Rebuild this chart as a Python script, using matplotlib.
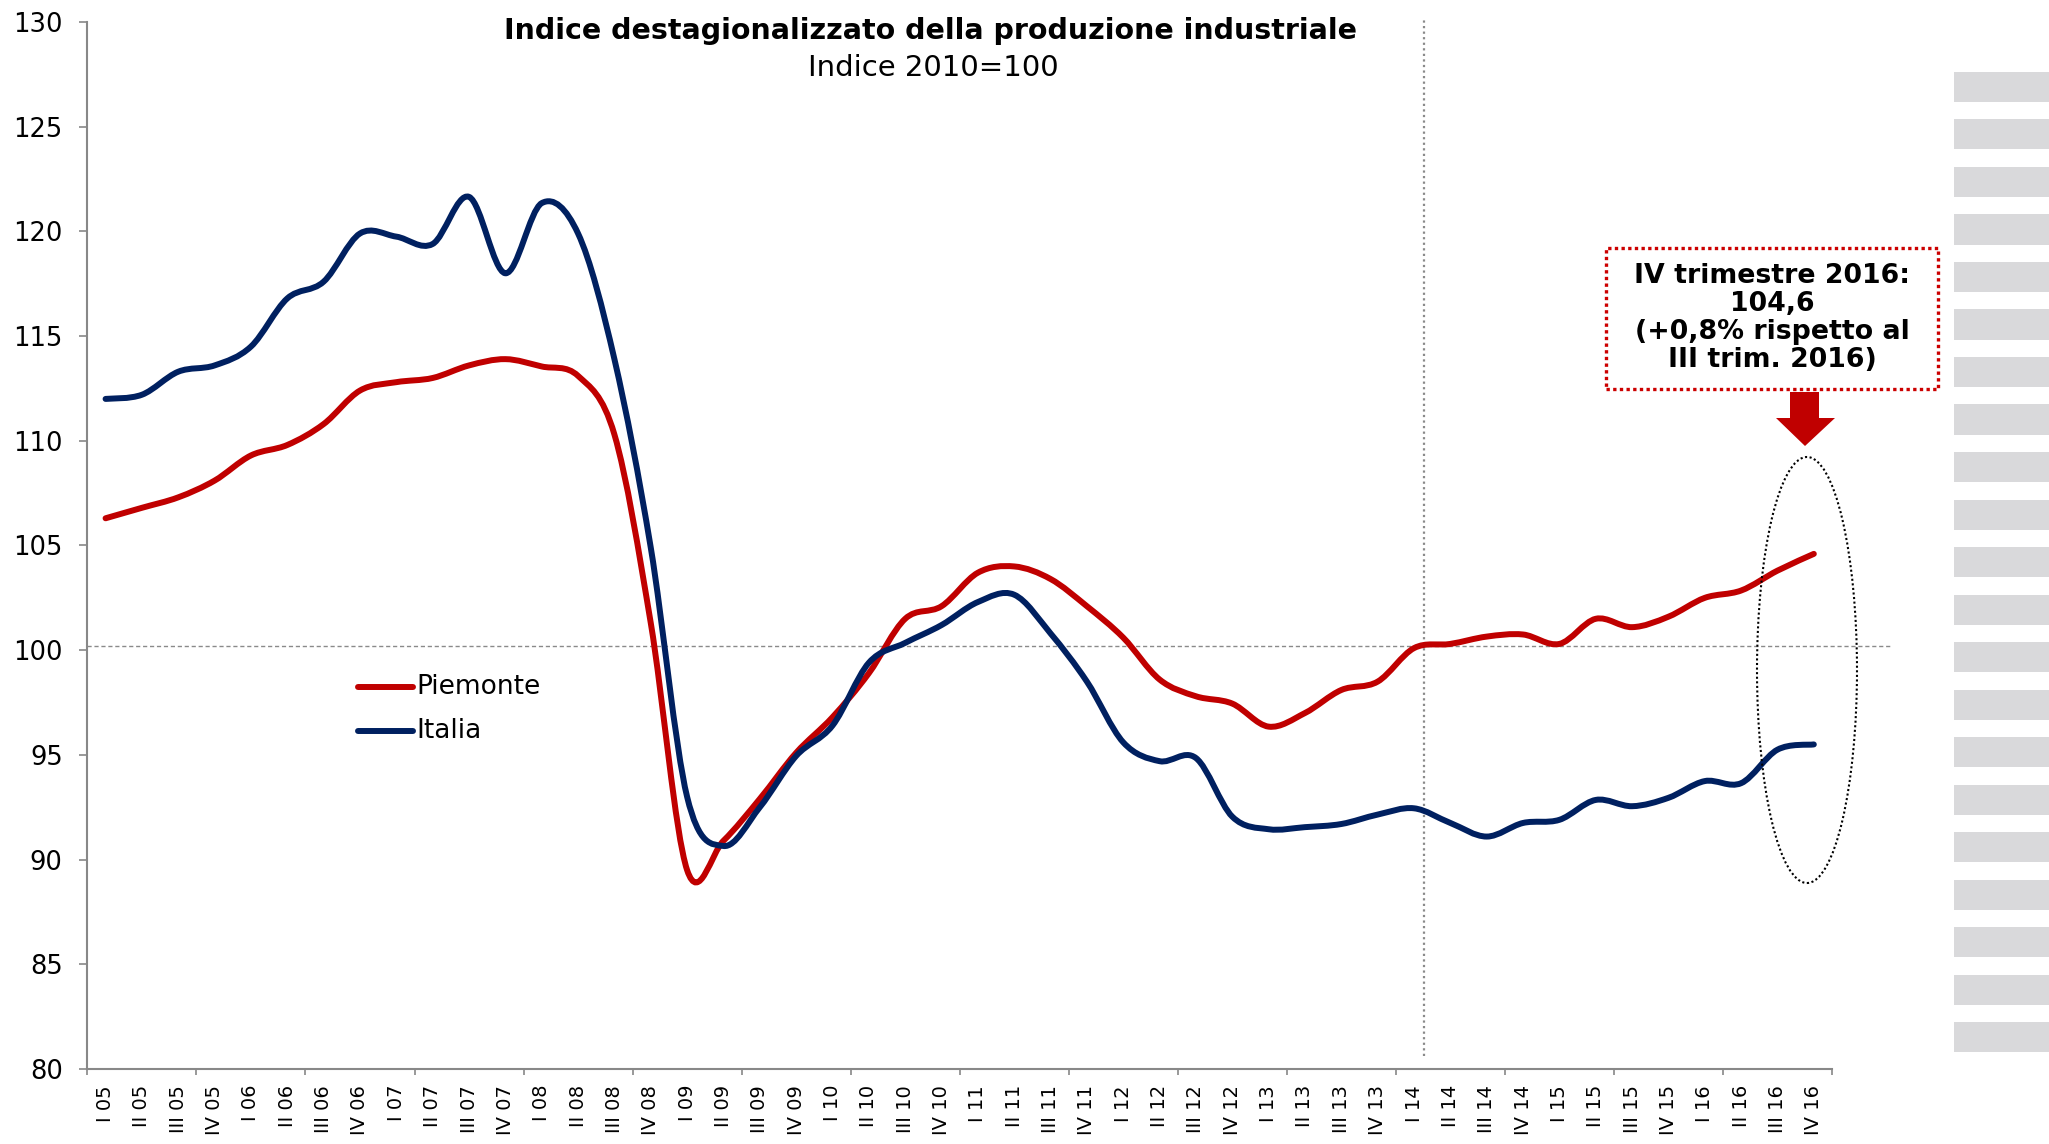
import numpy as np
import matplotlib
matplotlib.use("Agg")
import matplotlib.pyplot as plt
from matplotlib.path import Path
from matplotlib.patches import PathPatch, Rectangle, Ellipse, Polygon
from matplotlib.lines import Line2D

# ---------------- data ----------------
categories = [
    "I 05", "II 05", "III 05", "IV 05", "I 06", "II 06", "III 06", "IV 06",
    "I 07", "II 07", "III 07", "IV 07", "I 08", "II 08", "III 08", "IV 08",
    "I 09", "II 09", "III 09", "IV 09", "I 10", "II 10", "III 10", "IV 10",
    "I 11", "II 11", "III 11", "IV 11", "I 12", "II 12", "III 12", "IV 12",
    "I 13", "II 13", "III 13", "IV 13", "I 14", "II 14", "III 14", "IV 14",
    "I 15", "II 15", "III 15", "IV 15", "I 16", "II 16", "III 16", "IV 16",
]

piemonte = [
    106.3, 106.8, 107.3, 108.1, 109.3, 109.8, 110.8, 112.4,
    112.8, 113.0, 113.6, 113.9, 113.55, 113.1, 110.3, 101.3,
    89.5, 90.9, 92.9, 95.1, 96.8, 98.9, 101.5, 102.1,
    103.7, 104.0, 103.4, 102.1, 100.6, 98.6, 97.8, 97.45,
    96.35, 97.0, 98.1, 98.5, 100.1, 100.3, 100.65, 100.75,
    100.3, 101.5, 101.1, 101.6, 102.5, 102.85, 103.8, 104.6,
]

italia = [
    112.0, 112.2, 113.3, 113.6, 114.5, 116.8, 117.6, 119.9,
    119.75, 119.4, 121.65, 118.0, 121.35, 119.9, 113.9, 104.9,
    93.0, 90.65, 92.5, 94.95, 96.4, 99.4, 100.35, 101.2,
    102.3, 102.65, 100.8, 98.5, 95.6, 94.7, 94.85, 92.05,
    91.45, 91.55, 91.7, 92.15, 92.45, 91.75, 91.1, 91.75,
    91.9, 92.85, 92.55, 92.95, 93.75, 93.65, 95.25, 95.5,
]

series_names = ["Piemonte", "Italia"]
series_colors = ["#C00000", "#002060"]
yticks = [80, 85, 90, 95, 100, 105, 110, 115, 120, 125, 130]

title = "Indice destagionalizzato della produzione industriale"
subtitle = "Indice 2010=100"
note = "IV trimestre 2016:\n104,6\n(+0,8% rispetto al\nIII trim. 2016)"

# ---------------- figure ----------------
W, H = 2049, 1144
fig = plt.figure(figsize=(W / 100, H / 100), dpi=100)
fig.patch.set_facecolor("white")


def fx(px):
    return px / W


def fy(py):
    return 1 - py / H


ax = fig.add_axes([fx(87.4), fy(1069), (1832 - 87.4) / W, (1069 - 22) / H])
ax.set_xlim(-0.5, len(categories) - 0.5)
ax.set_ylim(80, 130)


def smooth_path(xs, ys):
    pts = np.column_stack([xs, ys]).astype(float)
    n = len(pts)
    verts = [pts[0]]
    codes = [Path.MOVETO]
    for k in range(n - 1):
        p0 = pts[k - 1] if k > 0 else pts[k]
        p1 = pts[k]
        p2 = pts[k + 1]
        p3 = pts[k + 2] if k + 2 < n else pts[k + 1]
        c1 = p1 + (p2 - p0) / 6.0
        c2 = p2 - (p3 - p1) / 6.0
        verts += [c1, c2, p2]
        codes += [Path.CURVE4] * 3
    return Path(verts, codes)


x = np.arange(len(categories))
for vals, col in zip([piemonte, italia], series_colors):
    patch = PathPatch(smooth_path(x, vals), fill=False, edgecolor=col, lw=4.3,
                      capstyle="round", joinstyle="round", zorder=3)
    ax.add_patch(patch)

# reference lines
ax.axhline(100.2, xmin=0, xmax=(49.1 + 0.5) / 48, color="#8a8a8a", lw=1.0,
           linestyle=(0, (3, 2)), clip_on=False, zorder=1)
ax.axvline(36.27, ymin=(1069 - 1056) / 1047, ymax=(1069 - 18) / 1047,
           color="#8a8a8a", lw=1.6, linestyle=(0, (1, 1.5)), clip_on=False, zorder=1)

# spines / ticks
for s in ["top", "right"]:
    ax.spines[s].set_visible(False)
for s in ["left", "bottom"]:
    ax.spines[s].set_color("#888888")
    ax.spines[s].set_linewidth(1.5)

ax.set_yticks(yticks)
ax.set_yticklabels([str(v) for v in yticks], fontsize=18.5)
ax.tick_params(axis="y", direction="out", length=5.8, width=1.2, color="#888888",
               pad=12)

ax.set_xticks(x)
ax.set_xticklabels(categories, rotation=90, fontsize=14)
ax.tick_params(axis="x", which="major", length=0, pad=11.5)
ax.set_xticks(np.arange(-0.5, len(categories), 3), minor=True)
ax.tick_params(axis="x", which="minor", direction="out", length=4.5, width=1.2,
               color="#888888")

# titles
fig.text(fx(931), fy(39), title, ha="center", va="baseline", fontsize=20.5,
         fontweight="bold", color="black")
fig.text(fx(933), fy(76), subtitle, ha="center", va="baseline", fontsize=21,
         color="black")

# legend (manual)
for i, (name, col) in enumerate(zip(series_names, series_colors)):
    yy = 686.7 + 44 * i
    fig.add_artist(Line2D([fx(358), fx(413)], [fy(yy), fy(yy)], color=col, lw=4.3,
                          solid_capstyle="round", transform=fig.transFigure))
    fig.text(fx(416), fy(yy), name, ha="left", va="center", fontsize=19,
             color="black")

# grey stripes on the right
for k in range(21):
    top = 72 + 47.5 * k
    fig.add_artist(Rectangle((fx(1954), fy(top + 30)), (2049 - 1954) / W, 30 / H,
                             transform=fig.transFigure, facecolor="#D9D9DB",
                             edgecolor="none"))

# annotation box
fig.add_artist(Rectangle((fx(1606), fy(389)), (1938 - 1606) / W, (389 - 248) / H,
                         transform=fig.transFigure, facecolor="white",
                         edgecolor="#CC0000", lw=2.4, linestyle=(0, (1, 1))))
fig.text(fx(1772), fy(318), note, ha="center", va="center", multialignment="center",
         fontsize=19.3, fontweight="bold", linespacing=1.1, color="black")

# arrow
arrow_px = [(1790, 392), (1819, 392), (1819, 418), (1835, 418), (1805, 446),
            (1776, 418), (1790, 418)]
fig.add_artist(Polygon([(fx(a), fy(b)) for a, b in arrow_px], closed=True,
                       transform=fig.transFigure, facecolor="#C00000",
                       edgecolor="none"))

# dotted ellipse
fig.add_artist(Ellipse((fx(1807), fy(670)), 100 / W, 426 / H,
                       transform=fig.transFigure, fill=False, edgecolor="black",
                       lw=1.5, linestyle=(0, (1, 1.2))))

fig.savefig("out.png", dpi=100)
